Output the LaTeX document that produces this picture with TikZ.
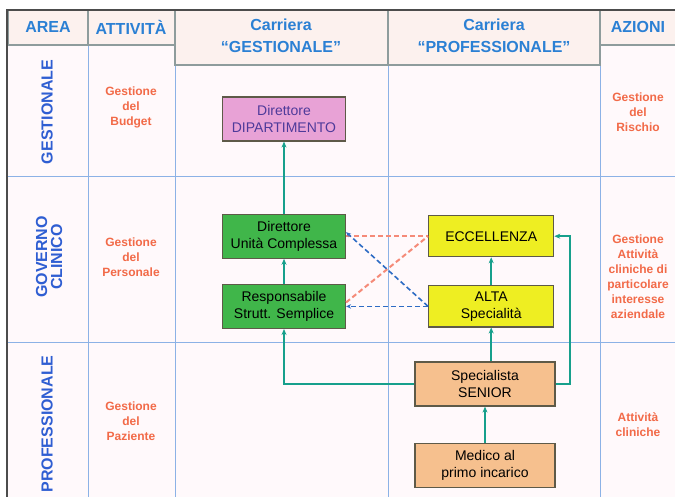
\documentclass[tikz,border=0pt]{standalone}
\usepackage{fontspec}
\setmainfont{Liberation Sans}
\usetikzlibrary{positioning,arrows.meta}
\definecolor{gridblue}{HTML}{8CB2E6}
\definecolor{headblue}{HTML}{2B80D4}
\definecolor{areablue}{HTML}{2F5ED2}
\definecolor{redtxt}{HTML}{F26A48}
\definecolor{cellgrey}{HTML}{8E9C9C}
\definecolor{headfill}{HTML}{FCF1EE}
\definecolor{bodyfill}{HTML}{FFF9FB}
\definecolor{linkteal}{HTML}{17A08C}
\definecolor{gestgreen}{HTML}{40B64A}
\definecolor{dippink}{HTML}{E8A2D6}
\definecolor{dipviolet}{HTML}{4E3A9A}
\definecolor{profyellow}{HTML}{EEEE22}
\definecolor{baseorange}{HTML}{F6C08E}
\definecolor{boxedge}{HTML}{5E5A48}
\definecolor{dashred}{HTML}{F58A78}
\definecolor{dashblue}{HTML}{2E6CC4}

\begin{document}
\begin{tikzpicture}[
    x=1pt, y=-1pt,
    box/.style={draw=boxedge, line width=1.2pt, minimum height=44pt, align=center, inner sep=2pt, font=\fontsize{14}{17}\selectfont},
    gbox/.style={box, fill=gestgreen, minimum width=123pt},
    dbox/.style={box, fill=dippink, text=dipviolet, minimum width=123pt},
    pbox/.style={box, fill=profyellow, minimum width=125pt, minimum height=41pt},
    obox/.style={box, fill=baseorange, minimum width=140pt},
    cell/.style={draw=cellgrey, line width=1.5pt, fill=headfill},
    head/.style={text=headblue, align=center, font=\fontsize{16}{22}\bfseries\selectfont},
    area/.style={text=areablue, align=center, rotate=90, font=\fontsize{16}{15}\bfseries\selectfont},
    act/.style={text=redtxt, align=center, font=\fontsize{12}{15}\bfseries\selectfont},
    grid/.style={gridblue, line width=1pt},
    arr/.style={-{Stealth[length=6pt, width=5pt]}, linkteal, line width=1.6pt},
    dred/.style={dashred, line width=2pt, dash pattern=on 5pt off 3pt},
    dblue/.style={-{Stealth[length=5pt, width=4.5pt]}, dashblue, line width=1.6pt, dash pattern=on 5pt off 3pt},
  ]
    \useasboundingbox (0,0) rectangle (675,497);
    \fill[white] (0,0) rectangle (675,497);
    \fill[bodyfill] (8,10) rectangle (675,497);

    % table grid
    \draw[grid] (8,177) -- (675,177);
    \draw[grid] (8,342) -- (675,342);
    \foreach \gx/\gy in {88/45, 175/65, 388/65, 600/45}
      \draw[grid] (\gx,\gy) -- (\gx,497);
    \draw[cell] (8,10) rectangle (88,45);
    \draw[cell] (88,10) rectangle (175,45);
    \draw[cell] (175,10) rectangle (388,65);
    \draw[cell] (388,10) rectangle (600,65);
    \draw[cell] (600,10) rectangle (677,45);
    \draw[black!70, line width=1.5pt] (677,10) -- (7,10) -- (7,497);

    % headers
    \node[head] (harea) at (48,27)   {AREA};
    \node[head] (hatt)  at (131,27)  {ATTIVITÀ};
    \node[head] (hgest) at (281,36)  {Carriera\\“GESTIONALE”};
    \node[head] (hprof) at (494,36)  {Carriera\\“PROFESSIONALE”};
    \node[head] (hazi)  at (638,27)  {AZIONI};

    % areas
    \node[area] (agest) at (47,112) {GESTIONALE};
    \node[area] (agov)  at (49,257) {GOVERNO\\CLINICO};
    \node[area] (aprof) at (47,424) {PROFESSIONALE};

    % attivita / azioni
    \node[act] (budget)   at (131,107) {Gestione\\del\\Budget};
    \node[act] (personale) at (131,257) {Gestione\\del\\Personale};
    \node[act] (paziente) at (131,421) {Gestione\\del\\Paziente};
    \node[act] (rischio)  at (638,112) {Gestione\\del\\Rischio};
    \node[act] (interesse) at (638,277) {Gestione\\Attività\\cliniche di\\particolare\\interesse\\aziendale};
    \node[act] (cliniche) at (638,425) {Attività\\cliniche};

    % career boxes
    \node[dbox] (dip) at (284,119) {Direttore\\DIPARTIMENTO};
    \node[gbox, below=72pt of dip] (uc) {Direttore\\Unità Complessa};
    \node[gbox, below=25pt of uc]  (ss) {Responsabile\\Strutt. Semplice};
    \node[pbox, right=82pt of uc]  (ecc) {ECCELLENZA};
    \node[pbox, below=28pt of ecc] (alta) {ALTA\\Specialità};
    \node[obox] (sen) at (485,384) {Specialista\\SENIOR};
    \node[obox, below=36pt of sen] (med) {Medico al\\primo incarico};

    \draw[arr] (uc) -- (dip);
    \draw[arr] (ss) -- (uc);
    \draw[arr] (alta) -- (ecc);
    \draw[arr] (sen.north -| alta.south) -- (alta.south);
    \draw[arr] (med) -- (sen);
    \draw[arr, line width=2.4pt] (sen.west) -| (ss.south);
    \draw[arr, line width=2pt] (sen.east) -- ++(14,0) |- (ecc.east);

    \draw[dred] (uc.east) -- (ecc.west);
    \draw[dred] ([yshift=4pt]ss.east) -- (ecc.west);
    \draw[dblue] (alta.west) -- ([yshift=4pt]uc.east);
    \draw[dblue] (alta.west) -- (ss.east);
  \end{tikzpicture}
\end{document}
